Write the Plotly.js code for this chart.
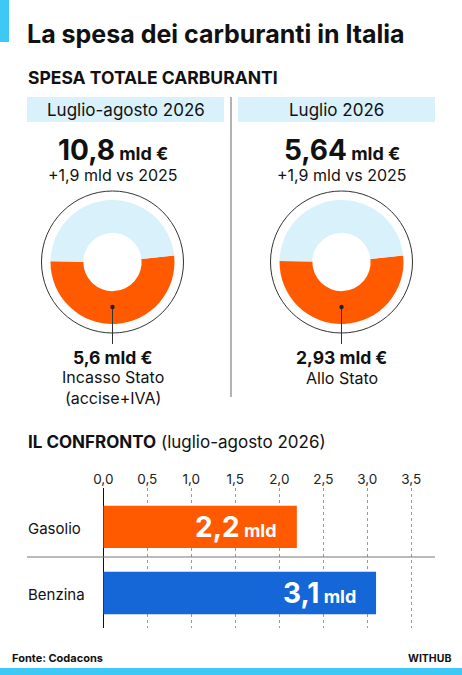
<!DOCTYPE html>
<html>
<head>
<meta charset="utf-8">
<script src="https://cdn.plot.ly/plotly-3.0.1.min.js"></script>
<style>
  html, body { margin: 0; padding: 0; background: #ffffff; }
  #chart { width: 462px; height: 675px; }
</style>
</head>
<body>
<div id="chart"></div>
<script>
// Spesa totale carburanti (mld €)
const periods = ["Luglio-agosto 2026", "Luglio 2026"];
const totals = [10.8, 5.64];
const totalLabels = ["10,8", "5,64"];
const stateShare = [5.6, 2.93];
const stateLabels = ["5,6 mld €", "2,93 mld €"];
const stateNotes = ["Incasso Stato<br>(accise+IVA)", "Allo Stato"];
const deltaLabels = ["+1,9 mld vs 2025", "+1,9 mld vs 2025"];

// Confronto per carburante, luglio-agosto 2026 (mld €)
const fuels = ["Gasolio", "Benzina"];
const fuelValues = [2.2, 3.1];
const fuelLabels = ["2,2", "3,1"];

const W = 462, H = 675;
const px = x => x / W;
const py = y => 1 - y / H;

const ORANGE = "#ff5a00";
const BLUE = "#1566d6";
const LIGHT = "#d8f1fb";
const CYAN = "#3ec8f6";
const FONT = "Inter, 'Open Sans', sans-serif";

// donut geometry (pixels)
const centers = [112.5, 341.5];
const cy = 262, rOuter = 62, rRing = 71;

const traces = [];
periods.forEach((p, i) => {
  const cx = centers[i];
  traces.push({
    type: "pie",
    values: [stateShare[i], totals[i] - stateShare[i]],
    labels: ["Stato", "Altro"],
    marker: { colors: [ORANGE, LIGHT], line: { width: 0 } },
    hole: 0.47,
    sort: false,
    direction: "clockwise",
    rotation: 84,
    textinfo: "none",
    hoverinfo: "skip",
    showlegend: false,
    domain: { x: [px(cx - rOuter), px(cx + rOuter)], y: [py(cy + rOuter), py(cy - rOuter)] }
  });
});

traces.push({
  type: "bar",
  orientation: "h",
  y: fuels,
  x: fuelValues,
  marker: { color: [ORANGE, BLUE] },
  hoverinfo: "skip",
  showlegend: false,
  xaxis: "x",
  yaxis: "y"
});

const shapes = [
  // accent bars
  { type: "rect", xref: "paper", yref: "paper", x0: 0, x1: px(9), y0: py(42), y1: py(0), fillcolor: CYAN, line: { width: 0 } },
  { type: "rect", xref: "paper", yref: "paper", x0: 0, x1: 1, y0: 0, y1: py(668), fillcolor: CYAN, line: { width: 0 } },
  // period headers
  { type: "rect", xref: "paper", yref: "paper", x0: px(27), x1: px(224), y0: py(122), y1: py(97), fillcolor: LIGHT, line: { width: 0 }, layer: "below" },
  { type: "rect", xref: "paper", yref: "paper", x0: px(238), x1: px(435), y0: py(122), y1: py(97), fillcolor: LIGHT, line: { width: 0 }, layer: "below" },
  // divider
  { type: "line", xref: "paper", yref: "paper", x0: px(231), x1: px(231), y0: py(97), y1: py(397), line: { color: "#9a9a9a", width: 1.5 } },
  // row separator in the bar chart
  { type: "line", xref: "paper", yref: "paper", x0: px(27), x1: px(435), y0: py(557), y1: py(557), line: { color: "#777777", width: 1 } }
];

centers.forEach(cx => {
  shapes.push({ type: "circle", xref: "paper", yref: "paper",
    x0: px(cx - rRing), x1: px(cx + rRing), y0: py(cy + rRing), y1: py(cy - rRing),
    line: { color: "#333333", width: 1 }, fillcolor: "rgba(0,0,0,0)" });
  shapes.push({ type: "line", xref: "paper", yref: "paper",
    x0: px(cx), x1: px(cx), y0: py(307), y1: py(344), line: { color: "#333333", width: 1 } });
  shapes.push({ type: "circle", xref: "paper", yref: "paper",
    x0: px(cx - 2.2), x1: px(cx + 2.2), y0: py(309.2), y1: py(304.8),
    fillcolor: "#222222", line: { width: 0 } });
});

const ann = (text, x, y, size, opts = {}) => Object.assign({
  text, xref: "paper", yref: "paper", x: px(x), y: py(y),
  xanchor: "left", yanchor: "middle", showarrow: false,
  font: { family: FONT, size, color: "#111111" }
}, opts);

const annotations = [
  ann("<b>La spesa dei carburanti in Italia</b>", 25, 34, 25, { font: { family: FONT, size: 25, color: "#111111", weight: 900 } }),
  ann("<b>SPESA TOTALE CARBURANTI</b>", 26, 77, 17.5, { font: { family: FONT, size: 17.5, color: "#111111", weight: 800 } }),
  ann("<b>IL CONFRONTO</b> (luglio-agosto 2026)", 26, 442, 17),
  ann("Fonte: Codacons", 10, 658, 11, { font: { family: FONT, size: 11, color: "#111111", weight: 700 } }),
  ann("<b>WITHUB</b>", 453, 658, 10.5, { xanchor: "right", font: { family: FONT, size: 10.5, color: "#111111", weight: 900 } })
];

periods.forEach((p, i) => {
  const cx = centers[i];
  const mid = i === 0 ? 125.5 : 336.5;
  annotations.push(ann(p, mid, 110, 17, { xanchor: "center" }));
  annotations.push(ann(`<b>${totalLabels[i]}</b><b><span style="font-size:18px"> mld €</span></b>`, cx, 150, 28,
    { xanchor: "center", font: { family: FONT, size: 28, color: "#111111", weight: 800 } }));
  annotations.push(ann(deltaLabels[i], cx, 175, 16, { xanchor: "center" }));
  annotations.push(ann(`<b>${stateLabels[i]}</b>`, cx, 357, 17.5,
    { xanchor: "center", font: { family: FONT, size: 17.5, color: "#111111", weight: 800 } }));
  annotations.push(ann(stateNotes[i], cx, i === 0 ? 387 : 378, 16,
    { xanchor: "center", yanchor: "middle", font: { family: FONT, size: 16, color: "#111111" } }));
});

// value labels inside the bars, anchored to each bar's end
fuels.forEach((f, i) => {
  annotations.push({
    text: `<b>${fuelLabels[i]}</b><b><span style="font-size:18px"> mld</span></b>`,
    xref: "x", yref: "y", x: fuelValues[i], y: f,
    xanchor: "right", yanchor: "middle", xshift: -18, showarrow: false,
    font: { family: FONT, size: 28, color: "#ffffff", weight: 800 }
  });
  annotations.push(ann(f, 26, i === 0 ? 528 : 594, 15));
});

const layout = {
  width: W, height: H,
  margin: { l: 0, r: 0, t: 0, b: 0 },
  paper_bgcolor: "#ffffff",
  plot_bgcolor: "rgba(0,0,0,0)",
  separators: ",.",
  font: { family: FONT, color: "#111111" },
  bargap: 0.36,
  xaxis: {
    domain: [px(103.3), px(435)],
    range: [0, 3.77],
    side: "top",
    tickmode: "linear", tick0: 0, dtick: 0.5,
    tickformat: ".1f",
    tickfont: { family: FONT, size: 13.5, color: "#222222" },
    ticks: "",
    showgrid: true, gridcolor: "#9a9a9a", griddash: "dot", gridwidth: 1,
    zeroline: true, zerolinecolor: "#111111", zerolinewidth: 1.5,
    showline: false, fixedrange: true
  },
  yaxis: {
    domain: [py(628), py(488)],
    range: [1.53, -0.59],
    showticklabels: false,
    showgrid: false, zeroline: false, showline: false, fixedrange: true
  },
  shapes, annotations
};

Plotly.newPlot("chart", traces, layout, { displayModeBar: false, staticPlot: true });
</script>
</body>
</html>
